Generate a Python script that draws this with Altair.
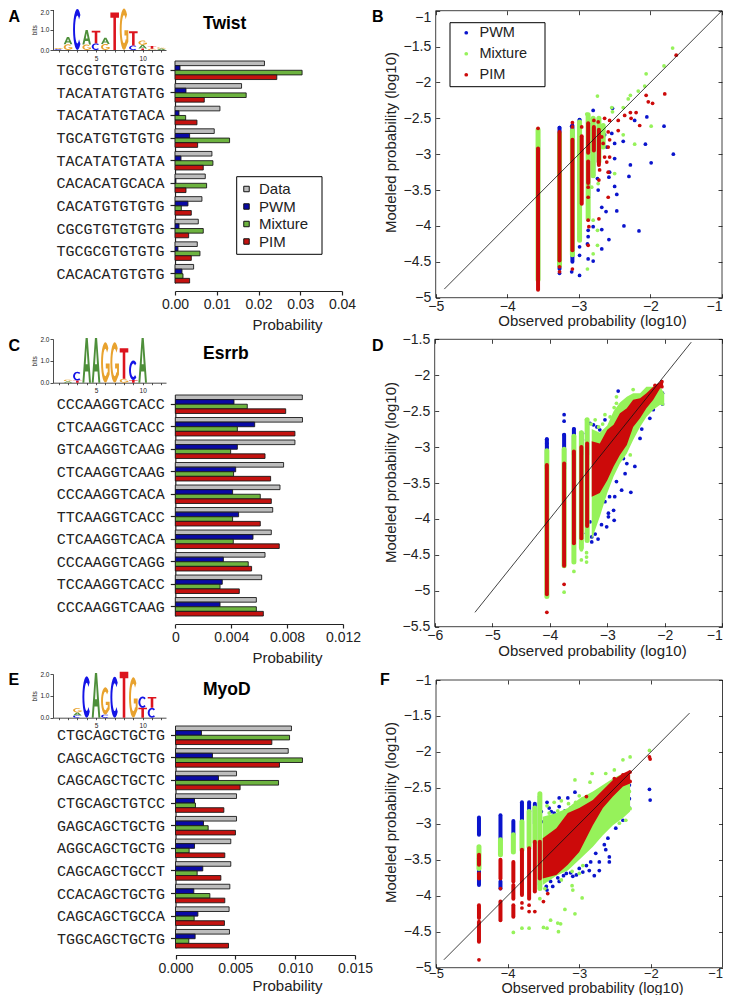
import math
import altair as alt

W, H = 715, 987
SERIES = ["Data", "PWM", "Mixture", "PIM"]
BAR_COLORS = ["#BDBDBD", "#0A0AA5", "#6DB33F", "#C4120F"]
DOT = ["#0A14CC", "#96F25A", "#CC0A0A"]
LOGO_COL = {"A": "#4E8F3A", "C": "#1414E6", "G": "#E8A22E", "T": "#DC141E"}

# ---------- bar data ----------
A_SEQ = ["TGCGTGTGTGTG", "TACATATGTATG", "TACATATGTACA", "TGCATGTGTGTG", "TACATATGTATA",
         "CACACATGCACA", "CACATGTGTGTG", "CGCGTGTGTGTG", "TGCGCGTGTGTG", "CACACATGTGTG"]
A_DATA = [.02143, .01594, .01076, .0094, .00884, .00725, .00645, .00558, .00534, .00446]
A_PWM = [.0012, .00263, .00096, .0035, .00143, .0002, .0031, .00096, .0007, .00167]
A_MIX = [.03044, .01705, .00255, .01307, .00908, .00757, .00151, .00677, .00598, .00191]
A_PIM = [.02438, .00701, .00526, .00542, .00677, .00263, .0039, .00327, .0039, .0035]

C_SEQ = ["CCCAAGGTCACC", "CTCAAGGTCACC", "GTCAAGGTCAAG", "CTCAAGGTCAAG", "CCCAAGGTCACA",
         "TTCAAGGTCACC", "CTCAAGGTCACA", "CCCAAGGTCAGG", "TCCAAGGTCACC", "CCCAAGGTCAAG"]
C_DATA = [.00909, .0091, .00856, .00775, .00749, .00697, .00687, .00642, .00618, .0058]
C_PWM = [.0042, .00568, .00444, .00432, .0041, .00453, .00556, .00344, .00336, .0032]
C_MIX = [.00515, .00444, .00396, .00417, .00608, .0041, .00415, .00522, .0032, .0058]
C_PIM = [.0079, .00856, .00642, .00682, .00687, .00608, .00744, .00546, .00458, .0063]

E_SEQ = ["CTGCAGCTGCTG", "CAGCAGCTGCTG", "CAGCAGCTGCTC", "CTGCAGCTGTCC", "GAGCAGCTGCTG",
         "AGGCAGCTGCTG", "CAGCAGCTGCCT", "CCACAGCTGCTG", "CAGCAGCTGCCA", "TGGCAGCTGCTG"]
E_DATA = [.00969, .00942, .0051, .0051, .0051, .00462, .00462, .00454, .00448, .00451]
E_PWM = [.00217, .00309, .00359, .00159, .00234, .00159, .00228, .00153, .00187, .00164]
E_MIX = [.00953, .01061, .00861, .00167, .00273, .00114, .00181, .00287, .00156, .00111]
E_PIM = [.00805, .00869, .0054, .00404, .00501, .00412, .00379, .00412, .00409, .00443]

# ---------- logo data: position -> (letter, bits) bottom to top ----------
LOGO_A = {1: [("C", .05), ("G", .05)], 2: [("G", .28), ("A", .36)], 3: [("C", 2.03)],
          4: [("G", .27), ("A", .72)], 5: [("C", .33), ("T", .62)], 6: [("G", .3), ("A", .3)],
          7: [("T", 1.85)], 8: [("G", 2.05)], 9: [("C", .22), ("T", .7)],
          10: [("T", .08), ("A", .17), ("G", .22)], 11: [("G", .06), ("T", .14)], 12: [("A", .07), ("G", .06)]}
LOGO_C = {2: [("A", .07), ("G", .07)], 3: [("T", .1), ("C", .4)], 4: [("A", 2.05)], 5: [("A", 2.05)],
          6: [("G", 1.85)], 7: [("G", 1.85)], 8: [("G", .18), ("T", 1.4)],
          9: [("T", .12), ("C", .9)], 10: [("A", 2.05)]}
LOGO_E = {3: [("C", .1), ("A", .14), ("G", .2)], 4: [("C", 1.9)], 5: [("A", 2.05)],
          6: [("C", .14), ("G", 1.25)], 7: [("C", 1.88)], 8: [("T", 2.1)], 9: [("G", 1.85)],
          10: [("T", .45), ("C", .52)], 11: [("C", .45), ("T", .5)]}

# ---------- scatter data ----------
# solid stretches of overlapping dots: (observed, top, bottom)
B_BLUE_S = [(-3.57, -2.8, -4.75), (-3.27, -2.63, -4.6), (-3.09, -2.6, -4.5), (-2.99, -2.52, -3.4),
            (-2.87, -2.5, -3.6), (-2.8, -2.55, -3.3), (-2.72, -2.6, -3.1)]
B_GREEN_S = [(-3.57, -2.66, -4.75), (-3.27, -2.72, -4.55), (-3.09, -2.67, -4.4), (-2.99, -2.55, -4.2),
             (-2.87, -2.45, -3.9), (-2.8, -2.5, -3.3), (-2.72, -2.5, -3.1), (-2.66, -2.6, -2.9)]
B_RED_S = [(-3.57, -2.92, -4.89), (-3.27, -2.69, -4.48), (-3.09, -2.8, -4.34), (-2.96, -2.75, -3.69),
           (-2.87, -2.57, -2.98), (-2.87, -3.1, -3.4), (-2.79, -2.62, -2.95), (-2.72, -2.66, -3.15)]
B_BLUE = [(-2.22, -2.53), (-2.05, -2.48), (-1.81, -2.61), (-1.68, -3.0), (-2.07, -2.86), (-1.99, -3.12),
          (-2.28, -3.15), (-2.3, -3.31), (-2.38, -2.82), (-2.5, -3.06), (-2.54, -2.71), (-2.53, -2.36),
          (-2.8, -2.39), (-2.99, -2.52), (-3.27, -2.63), (-3.1, -2.61), (-2.5, -3.45), (-2.47, -3.56),
          (-2.47, -3.79), (-2.62, -3.8), (-2.68, -3.74), (-2.37, -4.0), (-2.16, -4.07), (-2.58, -4.19),
          (-2.68, -4.05), (-2.8, -4.01), (-2.87, -4.06), (-2.87, -4.15), (-2.99, -4.04), (-2.99, -4.15),
          (-2.99, -4.29), (-2.99, -4.41), (-2.87, -4.46), (-2.8, -4.49), (-2.68, -4.32), (-2.88, -4.25),
          (-2.99, -4.69), (-3.27, -4.66), (-3.1, -4.64), (-2.57, -3.25), (-2.58, -3.32), (-2.73, -3.5),
          (-2.74, -3.34), (-2.5, -2.85), (-2.61, -2.9), (-2.64, -2.73), (-2.87, -3.87)]
B_GREEN = [(-1.69, -1.52), (-1.81, -1.77), (-2.06, -1.88), (-2.08, -2.05), (-2.17, -2.12), (-2.28, -2.18),
           (-2.31, -2.23), (-2.38, -2.35), (-2.74, -2.19), (-2.54, -2.35), (-2.53, -2.41), (-2.89, -2.44),
           (-2.38, -2.73), (-2.22, -2.86), (-1.99, -2.61), (-2.5, -3.27), (-2.88, -4.6), (-2.8, -4.39),
           (-2.74, -4.27), (-2.74, -4.06), (-2.8, -3.92), (-2.73, -3.41), (-2.82, -3.46)]
B_RED = [(-1.64, -1.62), (-1.8, -2.16), (-2.06, -2.18), (-2.03, -2.27), (-1.97, -2.29), (-2.2, -2.42),
         (-2.28, -2.42), (-2.36, -2.46), (-2.15, -2.6), (-2.27, -2.5), (-2.45, -2.53), (-2.57, -2.53),
         (-2.64, -2.5), (-2.73, -2.55), (-2.79, -2.53), (-2.96, -2.62), (-3.09, -2.56), (-3.09, -2.62),
         (-2.45, -2.67), (-2.59, -2.69), (-2.57, -2.8), (-2.68, -2.76), (-2.59, -2.9), (-2.66, -2.85),
         (-2.57, -3.04), (-2.64, -3.04), (-2.61, -3.11), (-2.59, -3.25), (-2.71, -3.22), (-2.72, -3.9),
         (-2.87, -3.92), (-2.86, -4.01), (-2.87, -4.27), (-3.09, -4.6), (-3.27, -4.57), (-3.27, -4.64),
         (-2.72, -3.36), (-2.59, -3.6), (-2.87, -3.46), (-2.87, -3.6), (-3.57, -2.64)]

D_BLUE_S = [(-4.05, -2.89, -3.3), (-3.75, -2.83, -3.3), (-3.58, -2.75, -3.1), (-3.45, -2.8, -3.1), (-3.35, -2.7, -3.1)]
D_GREEN_S = [(-4.05, -3.05, -5.08), (-3.75, -3.03, -4.65), (-3.58, -2.85, -4.6), (-3.45, -2.8, -4.4), (-3.35, -2.62, -4.3)]
D_RED_S = [(-4.05, -3.25, -5.05), (-3.75, -3.23, -4.65), (-3.58, -3.06, -4.34), (-3.45, -3.0, -4.27), (-3.35, -2.95, -4.1)]
D_GREEN_A = [(-3.27, -2.75, -4.29), (-3.13, -2.8, -3.97), (-3.0, -2.7, -3.64), (-2.89, -2.5, -3.41),
             (-2.78, -2.38, -3.23), (-2.66, -2.3, -3.09), (-2.55, -2.25, -2.9), (-2.43, -2.25, -2.72),
             (-2.32, -2.16, -2.58), (-2.2, -2.16, -2.48), (-2.08, -2.16, -2.41), (-2.01, -2.25, -2.43)]
D_RED_A = [(-3.27, -2.92, -3.69), (-3.13, -2.95, -3.64), (-3.0, -2.76, -3.46), (-2.89, -2.69, -3.27),
           (-2.78, -2.53, -3.11), (-2.66, -2.46, -2.97), (-2.55, -2.34, -2.72), (-2.43, -2.32, -2.6),
           (-2.32, -2.25, -2.46), (-2.2, -2.16, -2.34), (-2.08, -2.09, -2.18), (-2.03, -2.07, -2.14)]
D_BLUE = [(-2.81, -2.22), (-2.32, -2.3), (-2.04, -2.25), (-2.04, -2.4), (-2.2, -2.48), (-2.26, -2.6),
          (-2.4, -2.75), (-2.43, -2.88), (-2.52, -3.27), (-2.59, -3.63), (-2.75, -3.6), (-2.84, -3.48),
          (-2.95, -3.43), (-2.96, -3.69), (-2.87, -3.69), (-2.98, -3.92), (-3.04, -3.76), (-2.89, -3.88),
          (-2.98, -3.97), (-2.88, -4.02), (-3.1, -4.08), (-3.01, -4.11), (-3.16, -4.28), (-3.27, -4.25),
          (-3.27, -4.32), (-3.21, -4.21), (-3.36, -4.2), (-3.3, -4.04), (-3.24, -2.69), (-3.18, -2.72),
          (-3.13, -2.76), (-3.04, -2.62), (-3.3, -2.67), (-3.36, -2.81), (-3.36, -2.9), (-3.75, -2.55),
          (-3.75, -2.64), (-3.75, -2.83), (-3.58, -2.75), (-3.58, -2.81), (-4.05, -2.89), (-4.05, -2.95),
          (-4.05, -3.0), (-3.58, -4.43), (-2.66, -3.23), (-2.72, -3.16), (-2.69, -3.37), (-2.84, -3.23)]
D_GREEN = [(-3.75, -5.02), (-3.58, -4.73), (-3.58, -4.57), (-3.45, -4.43), (-3.45, -4.57), (-3.36, -4.47),
           (-3.36, -4.53), (-3.36, -4.6), (-2.55, -2.2), (-2.84, -2.3), (-3.04, -2.55), (-3.21, -2.62),
           (-3.36, -2.62), (-2.6, -3.11), (-2.05, -2.34), (-2.72, -2.46), (-2.84, -2.39), (-3.28, -2.68),
           (-3.15, -2.72), (-3.08, -2.68), (-2.95, -2.58), (-2.88, -2.45)]
D_RED = [(-4.05, -5.3), (-3.75, -4.91), (-2.17, -2.14), (-2.05, -2.09), (-2.05, -2.16)]

F_BLUE_S = [(-4.4, -2.91, -3.15), (-4.4, -3.48, -3.85), (-4.1, -2.88, -3.22), (-4.1, -3.8, -3.9),
            (-3.92, -2.96, -3.15), (-3.8, -2.7, -2.97), (-3.7, -2.7, -2.83), (-3.62, -2.72, -3.0), (-3.55, -2.62, -3.85)]
F_GREEN_S = [(-4.4, -3.32, -3.62), (-4.1, -3.22, -3.43), (-3.92, -3.15, -3.39), (-3.8, -2.97, -3.36),
             (-3.7, -2.83, -3.32), (-3.62, -2.78, -3.25), (-3.55, -2.58, -3.9)]
F_RED_S = [(-4.4, -3.43, -3.57), (-4.4, -3.69, -3.76), (-4.4, -4.13, -4.31), (-4.4, -4.36, -4.64),
           (-4.1, -3.5, -3.76), (-4.1, -4.08, -4.34), (-3.92, -3.53, -3.8), (-3.92, -3.85, -4.04),
           (-3.92, -4.13, -4.29), (-3.8, -3.36, -3.99), (-3.7, -3.34, -4.04), (-3.62, -3.25, -3.94),
           (-3.55, -3.25, -3.76)]
F_GREEN_A = [(-3.51, -2.9, -3.85), (-3.32, -2.85, -3.72), (-3.16, -2.78, -3.65), (-3.0, -2.65, -3.5),
             (-2.81, -2.55, -3.32), (-2.67, -2.46, -3.16), (-2.53, -2.37, -3.02), (-2.39, -2.3, -2.92),
             (-2.29, -2.32, -2.83)]
F_RED_A = [(-3.51, -3.2, -3.76), (-3.32, -3.06, -3.71), (-3.16, -2.85, -3.57), (-3.0, -2.78, -3.39),
           (-2.81, -2.67, -3.02), (-2.67, -2.53, -2.78), (-2.53, -2.39, -2.62), (-2.39, -2.3, -2.48),
           (-2.29, -2.25, -2.44)]
F_BLUE = [(-3.16, -2.64), (-3.28, -2.64), (-3.45, -2.7), (-3.55, -2.62), (-3.06, -2.56), (-3.39, -2.83),
          (-3.46, -2.92), (-3.53, -2.83), (-3.53, -2.97), (-2.58, -3.46), (-2.58, -3.53), (-2.72, -3.65),
          (-2.79, -3.72), (-2.86, -3.65), (-2.95, -3.67), (-3.04, -3.71), (-3.09, -3.73), (-3.18, -3.69),
          (-3.28, -3.8), (-3.37, -3.87), (-3.46, -3.87), (-3.55, -3.85), (-2.72, -3.53), (-2.65, -3.29),
          (-2.6, -3.2), (-2.49, -3.06), (-2.39, -2.95), (-2.3, -2.78), (-2.3, -2.65), (-2.42, -2.46),
          (-2.3, -2.46), (-2.37, -2.58), (-2.02, -2.52), (-2.01, -2.67), (-2.46, -2.62), (-2.63, -3.36),
          (-2.77, -3.41), (-2.84, -3.53), (-3.42, -2.78), (-3.35, -2.85), (-3.28, -2.76), (-3.2, -2.82),
          (-3.12, -2.78), (-3.4, -3.8), (-3.3, -3.75), (-3.22, -3.72), (-3.12, -3.68), (-3.0, -3.62),
          (-2.9, -3.58), (-3.45, -3.92)]
F_GREEN = [(-2.02, -1.98), (-2.29, -2.07), (-2.39, -2.11), (-2.51, -2.25), (-2.63, -2.3), (-2.82, -2.3),
           (-2.85, -2.42), (-3.06, -2.39), (-3.55, -2.58), (-3.0, -2.61), (-2.3, -2.55), (-2.29, -2.79),
           (-2.35, -2.95), (-2.44, -2.99), (-3.1, -3.86), (-3.09, -3.92), (-2.96, -4.03), (-3.2, -4.19),
           (-3.06, -4.25), (-3.4, -4.34), (-3.3, -4.38), (-3.26, -4.39), (-3.29, -4.5), (-3.5, -4.44),
           (-3.45, -4.45), (-3.7, -4.45), (-3.8, -4.45), (-3.92, -4.51), (-3.0, -3.69), (-3.55, -4.04),
           (-3.45, -2.75), (-3.35, -2.7), (-3.25, -2.68), (-3.15, -2.72), (-3.3, -2.82), (-3.42, -2.85),
           (-3.05, -2.7), (-2.95, -2.65), (-3.48, -3.9), (-3.25, -3.78), (-3.1, -3.66), (-2.95, -3.58)]
F_RED = [(-4.4, -4.89), (-2.02, -2.07), (-2.01, -2.1), (-2.29, -2.28), (-2.39, -2.32), (-2.35, -2.41),
         (-2.51, -2.37), (-2.29, -2.41), (-2.9, -2.62), (-3.44, -3.97), (-3.5, -4.08), (-3.62, -4.22),
         (-3.7, -4.13), (-3.7, -4.22), (-3.8, -4.1), (-3.8, -4.17), (-4.1, -3.9)]

AXC = "#222222"
SANS = "Liberation Sans"


def px(v):
    return v - 8


def qscale(dom, a, b):
    return alt.Scale(domain=dom, range=[px(a), px(b)], nice=False, zero=False)


def rows(v):
    return alt.Data(values=v)


def text(t, x, y, size, bold=True):
    return alt.Chart(rows([{"t": t}])).mark_text(
        align="left", baseline="middle", fontSize=size, font=SANS,
        fontWeight="bold" if bold else "normal", color="black",
    ).encode(x=alt.value(px(x)), y=alt.value(px(y)), text="t:N")


def box(x0, y0, x1, y1):
    return alt.Chart(rows([{"k": 1}])).mark_rect(fill="white", stroke="black", strokeWidth=1).encode(
        x=alt.value(px(x0)), x2=alt.value(px(x1)), y=alt.value(px(y0)), y2=alt.value(px(y1)))


def glyph(letter, a):
    def arc(rx, ry, t0, t1, n=18):
        return [(rx * math.cos(math.radians(t0 + (t1 - t0) * i / n)),
                 ry * math.sin(math.radians(t0 + (t1 - t0) * i / n))) for i in range(n + 1)]

    if letter == "T":
        loops = [[(-1, -1), (1, -1), (1, -.72), (.3, -.72), (.3, 1), (-.3, 1), (-.3, -.72), (-1, -.72)]]
    elif letter == "A":
        loops = [[(-1, 1), (-.25, -1), (.25, -1), (1, 1), (.55, 1), (.36, .5), (-.36, .5), (-.55, 1)],
                 [(0, -.55), (-.22, .18), (.22, .18)]]
    elif letter == "C":
        loops = [arc(1, 1, -45, -315) + arc(.55, .68, -315, -45)]
    else:
        loops = [arc(1, 1, -45, -290) + [(1, .6), (1, .05), (.1, .05), (.1, .3), (.55, .3), (.55, .5)]
                 + arc(.55, .68, -315, -45)]
    d = ""
    for loop in loops:
        d += "M" + "L".join(f"{x * .92:.3f},{y * a:.3f}" for x, y in loop) + "Z"
    return d


def logo(data, y0, y2, top_base="middle"):
    unit = 9.33
    bit = (y0 - y2) / 2
    recs = []
    for pos, stack in data.items():
        base = 0
        for letter, h in stack:
            recs.append({"p": pos, "m": base + h / 2, "s": glyph(letter, h * bit / unit), "l": letter})
            base += h
    order = list(LOGO_COL)
    return alt.Chart(rows(recs)).mark_point(filled=True, strokeWidth=0, opacity=1).encode(
        x=alt.X("p:Q", scale=qscale([.39, 12.5], 53, 166), axis=alt.Axis(
            orient="bottom", offset=px(y0) - H, values=list(range(1, 13)), title=None, grid=False,
            labelExpr="datum.value == 5 || datum.value == 10 ? datum.label : ''",
            labelFontSize=6.5, tickSize=2, labelPadding=3, labelFont=SANS, domainColor=AXC, tickColor=AXC,
            domainWidth=.8, tickWidth=.8, labelColor=AXC)),
        y=alt.Y("m:Q", scale=qscale([0, 2], y0, y2), axis=alt.Axis(
            orient="left", offset=-px(53), values=[0, 1, 2], format=".1f", title="bits", grid=False,
            labelBaseline={"condition": {"test": "datum.value == 2", "value": top_base}, "value": "middle"},
            labelFontSize=6.5, tickSize=3, labelPadding=1, labelFont=SANS, titleFontSize=6.5,
            titleFontWeight="normal", titleFont=SANS, titlePadding=2, domainColor=AXC, tickColor=AXC,
            domainWidth=.8, tickWidth=.8, labelColor=AXC, titleColor=AXC)),
        shape=alt.Shape("s:N", scale=None, legend=None),
        size=alt.value(87),
        color=alt.Color("l:N", scale=alt.Scale(domain=order, range=[LOGO_COL[k] for k in order]), legend=None),
    )


def bars(seqs, vals, dom, x0, x1, top, bot, axis_y, ticks, fmt, legend=None, title_dy=33):
    recs = []
    for name, col in zip(SERIES, vals):
        for s, v in zip(seqs, col):
            recs.append({"seq": s, "series": name, "v": v})
    return alt.Chart(rows(recs)).mark_bar(stroke="#1a1a1a", strokeWidth=.9).encode(
        x=alt.X("v:Q", scale=qscale(dom, x0, x1), axis=alt.Axis(
            orient="bottom", offset=px(axis_y) - H, values=ticks, format=fmt, title="Probability", grid=False,
            labelFontSize=14, labelFont=SANS, labelPadding=2, tickSize=4, labelColor=AXC, domainColor=AXC,
            tickColor=AXC, domainWidth=1.2, tickWidth=1.2, titleFontSize=15, titleFont=SANS,
            titleFontWeight="normal", titleColor=AXC, titleX=px(287), titleY=title_dy, titleBaseline="middle",
            titleAlign="center", labelFlush=False, labelOverlap=False)),
        y=alt.Y("seq:N", sort=seqs, scale=alt.Scale(domain=seqs, range=[px(top), px(bot)], paddingInner=.18,
                                                    paddingOuter=0), axis=alt.Axis(
            orient="left", offset=-px(x0), title=None, grid=False, labelFont="Liberation Mono", labelFontSize=15,
            labelPadding=6, tickSize=5, labelColor=AXC, domainColor=AXC, tickColor=AXC, domainWidth=1.2,
            tickWidth=1.2, labelOverlap=False)),
        yOffset=alt.YOffset("series:N", sort=SERIES, scale=alt.Scale(domain=SERIES, paddingInner=0, paddingOuter=0)),
        color=alt.Color("series:N", sort=SERIES, scale=alt.Scale(domain=SERIES, range=BAR_COLORS), legend=legend),
    )


def scatter(xdom, ydom, xt, yt, L, R, T, B, diag, title_dy, title_y, blue_s, blue, green_s, green, red_s, red,
            green_a=None, red_a=None, legend=None, x_label=14, x_pad=2, x_title=15):
    sx = qscale(xdom, L, R)
    sy = qscale(ydom, B, T)
    tick = 4

    def pts(p, color):
        return alt.Chart(rows([{"x": a, "y": b} for a, b in p])).mark_circle(
            size=14, opacity=1, strokeWidth=0, color=color).encode(
            x=alt.X("x:Q", scale=sx, axis=None), y=alt.Y("y:Q", scale=sy, axis=None))

    def stripes(p, color, width=4):
        return alt.Chart(rows([{"x": a, "t": b, "b": c} for a, b, c in p])).mark_rule(
            strokeWidth=width, strokeCap="round", color=color).encode(
            x=alt.X("x:Q", scale=sx, axis=None), y=alt.Y("t:Q", scale=sy, axis=None), y2="b:Q")

    def area(p, color):
        return alt.Chart(rows([{"x": a, "t": b, "b": c} for a, b, c in p])).mark_area(
            color=color, opacity=1, line=False).encode(
            x=alt.X("x:Q", scale=sx, axis=None), y=alt.Y("t:Q", scale=sy, axis=None), y2="b:Q")

    common = dict(grid=False, domain=False, tickSize=tick, tickWidth=.8, tickColor="#111111", labelFont=SANS,
                  labelColor=AXC, labelOverlap=False, labelFlush=False, format="~g")
    end_align = {"condition": {"test": f"datum.value == {xdom[1]}", "value": "right"}, "value": "center"}
    top_base = "top" if T < 20 else "middle"
    end_base = {"condition": {"test": f"datum.value == {ydom[1]}", "value": top_base}, "value": "middle"}
    blue_layer = alt.Chart(rows([{"x": a, "y": b, "series": "PWM"} for a, b in blue])).mark_circle(
        size=14, opacity=1, strokeWidth=0).encode(
        x=alt.X("x:Q", scale=sx, axis=alt.Axis(
            orient="bottom", offset=px(B) - tick - H, values=xt, title="Observed probability (log10)",
            labelPadding=x_pad, labelFontSize=x_label, labelAlign=end_align,
            titleFontSize=x_title, titleFont=SANS, titleFontWeight="normal", titleColor=AXC, titleX=px(592),
            titleY=tick + title_dy, titleBaseline="middle", titleAlign="center", **common)),
        y=alt.Y("y:Q", scale=sy, axis=alt.Axis(
            orient="left", offset=-(px(L) + tick), values=yt, title="Modeled probability (log10)", labelPadding=5,
            labelFontSize=14, labelBaseline=end_base,
            titleFontSize=15, titleFont=SANS, titleFontWeight="normal", titleColor=AXC, titleX=390.7 - L - tick,
            titleY=px(title_y), titleBaseline="middle", titleAlign="center", **common)),
        color=alt.Color("series:N", scale=alt.Scale(domain=["PWM", "Mixture", "PIM"], range=DOT), legend=legend),
    )
    side = dict(common)
    side.update(labels=False)
    frame = alt.Chart(rows([{"a": xdom[0], "b": xdom[1], "c": ydom[0], "d": ydom[1]}])).mark_rect(
        fillOpacity=0, stroke="#111111", strokeWidth=.8).encode(
        x=alt.X("a:Q", scale=sx, axis=alt.Axis(orient="top", offset=-(px(T) + tick), values=xt, title=None, **side)),
        x2="b:Q",
        y=alt.Y("c:Q", scale=sy, axis=alt.Axis(orient="right", offset=px(R) - tick - W, values=yt, title=None, **side)),
        y2="d:Q",
    )
    line = alt.Chart(rows([{"x": diag[0], "y": diag[0]}, {"x": diag[1], "y": diag[1]}])).mark_line(
        color="#111111", strokeWidth=.8).encode(
        x=alt.X("x:Q", scale=sx, axis=None), y=alt.Y("y:Q", scale=sy, axis=None))
    out = [stripes(blue_s, DOT[0]), blue_layer]
    if green_a:
        out.append(area(green_a, DOT[1]))
    out += [stripes(green_s, DOT[1], 5), pts(green, DOT[1])]
    if red_a:
        out.append(area(red_a, DOT[2]))
    out += [stripes(red_s, DOT[2]), pts(red, DOT[2]), frame, line]
    return out


bar_legend = alt.Legend(orient="none", legendX=px(239), legendY=px(181.5), title=None, symbolType="square", symbolSize=30,
                        symbolStrokeColor="#111111", symbolStrokeWidth=1, labelFontSize=15, labelFont=SANS,
                        labelColor=AXC, labelOffset=5, rowPadding=1.5, padding=0)
dot_legend = alt.Legend(orient="none", legendX=px(459), legendY=px(25.5), title=None, symbolType="circle", symbolSize=14,
                        labelFontSize=14.5, labelFont=SANS, labelColor=AXC, labelOffset=6, rowPadding=6, padding=0,
                        symbolOffset=0)

layers = [
    logo(LOGO_A, 50, 9.5, "top"), logo(LOGO_C, 382.7, 339), logo(LOGO_E, 717.7, 674),
    bars(A_SEQ, [A_DATA, A_PWM, A_MIX, A_PIM], [0, .04], 175, 342, 61, 283, 291, [0, .01, .02, .03, .04], ".2f", bar_legend),
    bars(C_SEQ, [C_DATA, C_PWM, C_MIX, C_PIM], [0, .012], 175.3, 343, 395, 616, 624, [0, .004, .008, .012], ".3~f"),
    bars(E_SEQ, [E_DATA, E_PWM, E_MIX, E_PIM], [0, .015], 175.5, 355, 726, 948, 955, [0, .005, .01, .015], ".3f", title_dy=30),
    box(236.7, 176.7, 322, 254.3),
]
layers += scatter([-5, -1], [-5, -1], [-5, -4, -3, -2, -1], [-5, -4.5, -4, -3.5, -3, -2.5, -2, -1.5, -1],
                  435.7, 722, 10.7, 297.7, (-4.88, -1), 22.5, 142,
                  B_BLUE_S, B_BLUE, B_GREEN_S, B_GREEN, B_RED_S, B_RED, legend=dot_legend)
layers += scatter([-6, -1], [-5.5, -1.5], [-6, -5, -4, -3, -2, -1], [-5.5, -5, -4.5, -4, -3.5, -3, -2.5, -2, -1.5],
                  434.7, 722.3, 339.3, 626.7, (-5.3, -1.54), 24, 472,
                  D_BLUE_S, D_BLUE, D_GREEN_S, D_GREEN, D_RED_S, D_RED, D_GREEN_A, D_RED_A)
layers += scatter([-5, -1], [-5, -1], [-5, -4, -3, -2, -1], [-5, -4.5, -4, -3.5, -3, -2.5, -2, -1.5, -1],
                  436, 722.5, 680, 967.7, (-4.89, -1.46), 20.5, 812,
                  F_BLUE_S, F_BLUE, F_GREEN_S, F_GREEN, F_RED_S, F_RED, F_GREEN_A, F_RED_A,
                  x_label=13, x_pad=0, x_title=14.5)
layers.append(box(450, 22.7, 545, 86.7))
layers += [
    text("A", 8.5, 17, 16), text("B", 372, 17, 16), text("C", 8.5, 346, 16), text("D", 372, 346, 16),
    text("E", 8.5, 680, 16), text("F", 380, 680, 16),
    text("Twist", 203, 24, 17.5), text("Esrrb", 203, 354, 17.5), text("MyoD", 203, 690, 17.5),
]

chart = alt.layer(*layers).resolve_scale(
    x="independent", y="independent", color="independent", yOffset="independent"
).properties(
    width=W, height=H, padding=0, autosize=alt.AutoSizeParams(type="none"),
).configure_view(stroke=None)

chart.save("out.html", embed_options={"renderer": "svg", "actions": False})
